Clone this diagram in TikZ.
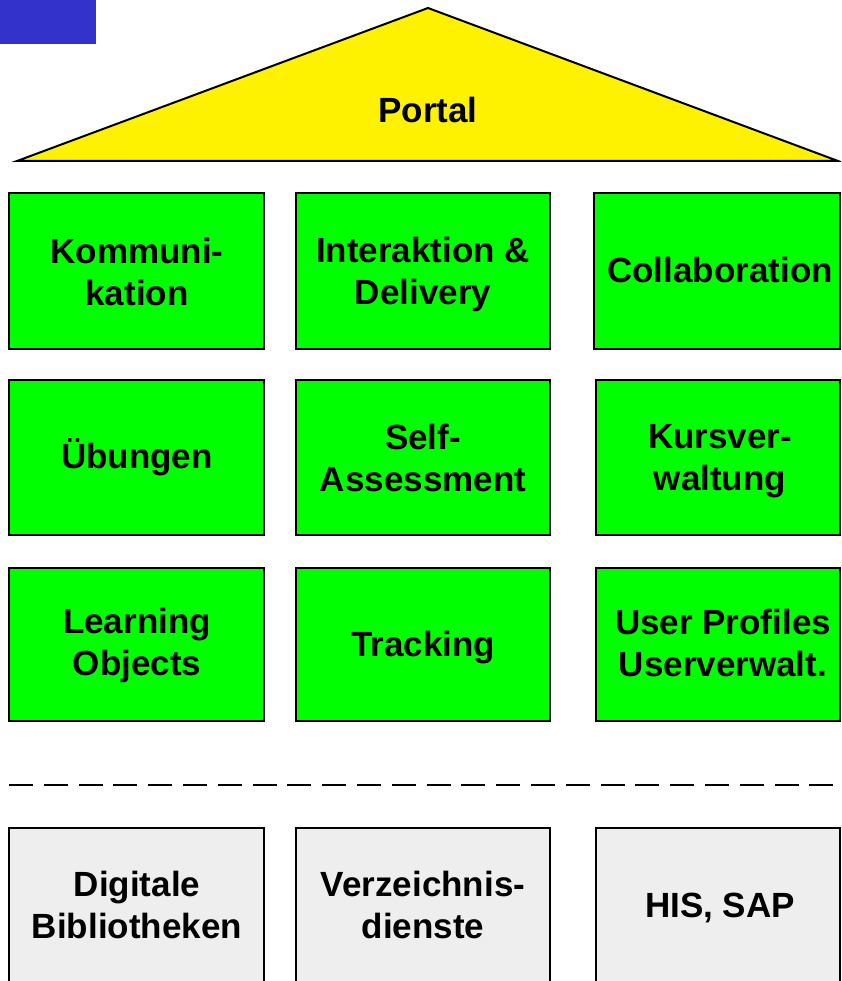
\documentclass[tikz,border=0pt]{standalone}
\usepackage{fontspec}
\setmainfont{Liberation Sans}
\begin{document}
\begin{tikzpicture}[x=1pt,y=-1pt,
  lbl/.style={font=\fontsize{35}{42}\selectfont\bfseries, align=center, inner sep=0pt},
  greenbox/.style={draw=black, line width=2pt, fill=green},
  greybox/.style={draw=black, line width=2pt, fill=gray!13}]
\useasboundingbox (0,0) rectangle (841,981);
\clip (0,0) rectangle (841,981);
% blue corner
\fill[fill={rgb,255:red,51;green,51;blue,204}] (0,0) rectangle (96,44);
% roof
\draw[line width=2pt, fill=yellow, line join=miter] (17,161) -- (428,8) -- (838,161) -- cycle;
\node[lbl] (portal) at (428,110) {Portal};
% green grid
\draw[greenbox] (9,193) rectangle (264,349);
\draw[greenbox] (296,193) rectangle (550,349);
\draw[greenbox] (594,193) rectangle (840,349);
\draw[greenbox] (9,380) rectangle (264,535);
\draw[greenbox] (296,380) rectangle (550,535);
\draw[greenbox] (596,380) rectangle (840,535);
\draw[greenbox] (9,568) rectangle (264,721);
\draw[greenbox] (296,568) rectangle (550,721);
\draw[greenbox] (596,568) rectangle (840,721);
\node[lbl] (komm) at (137,272) {Kommuni-\\kation};
\node[lbl] (inter) at (423,274) {Interaktion \&\\Delivery};
\node[lbl] (coll) at (720,270) {Collaboration};
\node[lbl] (ueb) at (137,457) {Übungen};
\node[lbl] (self) at (423,458) {Self-\\Assessment};
\node[lbl] (kurs) at (720,461) {Kursver-\\waltung};
\node[lbl] (learn) at (137,645) {Learning\\Objects};
\node[lbl] (track) at (423,648) {Tracking};
\node[lbl] (user) at (723,643) {User Profiles\\Userverwalt.};
% dashed separator
\draw[line width=2.5pt, dash pattern=on 24pt off 10.8pt] (9,785) -- (836,785);
% grey bottom row
\draw[greybox] (9,828) rectangle (264,995);
\draw[greybox] (296,828) rectangle (550,995);
\draw[greybox] (596,828) rectangle (840,995);
\node[lbl] (digi) at (137,905) {Digitale\\Bibliotheken};
\node[lbl] (verz) at (423,905) {Verzeichnis-\\dienste};
\node[lbl] (his) at (720,908) {HIS, SAP};
\end{tikzpicture}
\end{document}
